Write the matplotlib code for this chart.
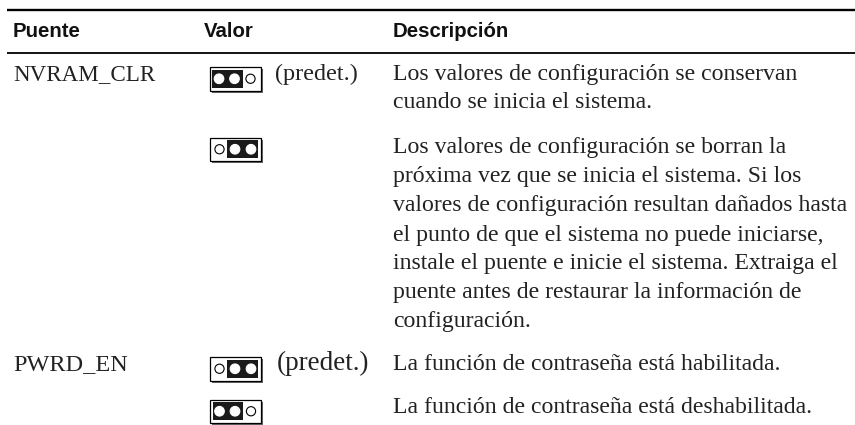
import matplotlib
matplotlib.use("Agg")
import matplotlib.pyplot as plt
from matplotlib.patches import Rectangle, Circle
from matplotlib import font_manager as fm

names = {f.name for f in fm.fontManager.ttflist}
HEAD = 'Liberation Sans Narrow' if 'Liberation Sans Narrow' in names else 'Liberation Sans'
BODY = 'Liberation Serif'

headers = ["Puente", "Valor", "Descripción"]
jumper_names = ["NVRAM_CLR", "PWRD_EN"]
default_label = "(predet.)"
desc_1 = ["Los valores de configuración se conservan",
          "cuando se inicia el sistema."]
desc_2 = ["Los valores de configuración se borran la",
          "próxima vez que se inicia el sistema. Si los",
          "valores de configuración resultan dañados hasta",
          "el punto de que el sistema no puede iniciarse,",
          "instale el puente e inicie el sistema. Extraiga el",
          "puente antes de restaurar la información de",
          "configuración."]
desc_3 = ["La función de contraseña está habilitada."]
desc_4 = ["La función de contraseña está deshabilitada."]

fig = plt.figure(figsize=(8.55, 4.25), dpi=100)
ax = fig.add_axes([0, 0, 1, 1])
ax.set_xlim(0, 855)
ax.set_ylim(425, 0)
ax.axis('off')

ax.plot([7, 855], [10, 10], color='black', lw=1.7, solid_capstyle='butt')
ax.plot([7, 855], [52.5, 52.5], color='black', lw=1.3, solid_capstyle='butt')

for x, t in zip([13, 204, 393], headers):
    ax.text(x, 36.5, t, family=HEAD, weight='bold', fontsize=14.7, va='baseline', color='#111111')

TS = 17.1
def txt(x, y, s, size=TS):
    ax.text(x, y, s, family=BODY, fontsize=size, va='baseline', color='#222222')

txt(13, 80, jumper_names[0], 16.6)
txt(13, 370, jumper_names[1], 17.5)
txt(275, 80, default_label, 17.4)
txt(277, 370, default_label, 19.5)

for lines, ys in [(desc_1, [80, 108]),
                  (desc_2, [153, 182, 211, 241, 269, 298, 327]),
                  (desc_3, [370]),
                  (desc_4, [413])]:
    for s, y in zip(lines, ys):
        txt(393, y, s)

def jumper(x, y, left):
    w, h = 51, 23.5
    ax.add_patch(Rectangle((x + 2, y + 2), w, h, fc='#666666', ec='none', zorder=2))
    ax.add_patch(Rectangle((x, y), w, h, fc='white', ec='black', lw=0.9, zorder=3))
    bx = x + 2.5 if left else x + 17
    ax.add_patch(Rectangle((bx, y + 2.8), 30.5, 18, fc='#1a1a1a', ec='none', zorder=4))
    cs = [9.5, 25, 41]
    for i, c in enumerate(cs):
        filled = (i < 2) if left else (i > 0)
        ax.add_patch(Circle((x + c, y + h / 2), 4.8 if filled else 4.6,
                            fc='white', ec='white' if filled else 'black', lw=0.8, zorder=5))

jumper(209.5, 67, True)
jumper(210, 137.5, False)
jumper(210, 357, False)
jumper(210, 399.5, True)

fig.savefig('out.png', dpi=100)
